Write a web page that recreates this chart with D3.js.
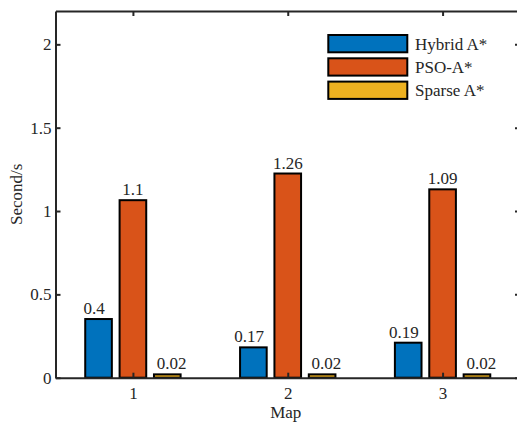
<!DOCTYPE html>
<html>
<head>
<meta charset="utf-8">
<script src="https://cdn.jsdelivr.net/npm/d3@7"></script>
<style>
  html, body { margin: 0; padding: 0; background: #fff; }
  svg { display: block; }
  text { font-family: "Liberation Serif", serif !important; fill: #262626; }
</style>
</head>
<body>
<svg id="chart" width="517" height="426"></svg>
<script>
// ---- data ----
const categories = [1, 2, 3];
const seriesNames = ["Hybrid A*", "PSO-A*", "Sparse A*"];
const hybridValues = [0.352, 0.182, 0.210];
const psoValues = [1.065, 1.225, 1.130];
const sparseValues = [0.020, 0.020, 0.020];
const hybridLabels = ["0.4", "0.17", "0.19"];
const psoLabels = ["1.1", "1.26", "1.09"];
const sparseLabels = ["0.02", "0.02", "0.02"];
const xTickLabels = ["1", "2", "3"];
const yTicks = [0, 0.5, 1, 1.5, 2];
const yTickLabels = ["0", "0.5", "1", "1.5", "2"];
const colors = ["#0072BD", "#D95319", "#EDB120"];

const series = [
  { name: seriesNames[0], values: hybridValues, labels: hybridLabels, color: colors[0] },
  { name: seriesNames[1], values: psoValues, labels: psoLabels, color: colors[1] },
  { name: seriesNames[2], values: sparseValues, labels: sparseLabels, color: colors[2] }
];

// ---- layout ----
const svg = d3.select("#chart");
const mLeft = 55.5, mRight = 520, mTop = 11, mBottom = 377.7;
const x = d3.scaleLinear().domain([0.5, 3.5]).range([mLeft, mRight]);
const y = d3.scaleLinear().domain([0, 2.2]).range([mBottom, mTop]);

const barOffset = 0.222, barWidth = 0.172, labelOffset = 0.25;
const axisColor = "#262626";
const fontFamily = '"Liberation Serif", serif';
const fontSize = 17;

// bars
series.forEach((s, si) => {
  const off = (si - 1) * barOffset;
  svg.append("g").selectAll("rect").data(categories).join("rect")
    .attr("x", (d) => x(d + off - barWidth / 2))
    .attr("width", x(barWidth) - x(0))
    .attr("y", (d, i) => y(s.values[i]))
    .attr("height", (d, i) => y(0) - y(s.values[i]))
    .attr("fill", s.color)
    .attr("stroke", "#000")
    .attr("stroke-width", 2);
  const loff = (si - 1) * labelOffset;
  svg.append("g").selectAll("text").data(categories).join("text")
    .attr("x", (d) => x(d + loff))
    .attr("y", (d, i) => y(s.values[i]) - 5)
    .attr("text-anchor", "middle")
    .attr("font-family", fontFamily)
    .attr("font-size", fontSize)
    .text((d, i) => s.labels[i]);
});

// axes
const xAxis = d3.axisBottom(x).tickValues(categories).tickFormat((d, i) => xTickLabels[i])
  .tickSizeInner(-5).tickSizeOuter(0).tickPadding(9);
const gx = svg.append("g").attr("transform", `translate(0,${mBottom})`).call(xAxis);
const yAxis = d3.axisLeft(y).tickValues(yTicks).tickFormat((d, i) => yTickLabels[i])
  .tickSizeInner(-5).tickSizeOuter(0).tickPadding(4);
const gy = svg.append("g").attr("transform", `translate(${mLeft},0)`).call(yAxis);
const gyr = svg.append("g").attr("transform", `translate(${mRight},0)`)
  .call(d3.axisRight(y).tickValues(yTicks).tickFormat("").tickSizeInner(-5).tickSizeOuter(0));
const gxt = svg.append("g").attr("transform", `translate(0,${mTop})`)
  .call(d3.axisTop(x).tickValues(categories).tickFormat("").tickSizeInner(-5).tickSizeOuter(0));

[gx, gy, gyr, gxt].forEach(g => {
  g.attr("font-family", fontFamily);
  g.select(".domain").attr("stroke", axisColor).attr("stroke-width", 2);
  g.selectAll(".tick line").attr("stroke", axisColor).attr("stroke-width", 2);
  g.selectAll(".tick text").attr("font-size", fontSize)
    .attr("font-family", fontFamily).attr("fill", axisColor);
});

// axis labels
svg.append("text").attr("x", (mLeft + mRight) / 2 - 2).attr("y", 418)
  .attr("text-anchor", "middle").attr("font-family", fontFamily).attr("font-size", fontSize).text("Map");
svg.append("text").attr("transform", `translate(22,${(mTop + mBottom) / 2}) rotate(-90)`)
  .attr("text-anchor", "middle").attr("font-family", fontFamily).attr("font-size", fontSize).text("Second/s");

// legend
const legend = svg.append("g");
series.forEach((s, i) => {
  const yy = 35 + i * 23.3;
  legend.append("rect").attr("x", 328.3).attr("y", yy).attr("width", 79).attr("height", 17.3)
    .attr("fill", s.color).attr("stroke", "#000").attr("stroke-width", 2);
  legend.append("text").attr("x", 415).attr("y", yy + 14.5)
    .attr("font-family", fontFamily).attr("font-size", fontSize).text(s.name);
});
</script>
</body>
</html>
